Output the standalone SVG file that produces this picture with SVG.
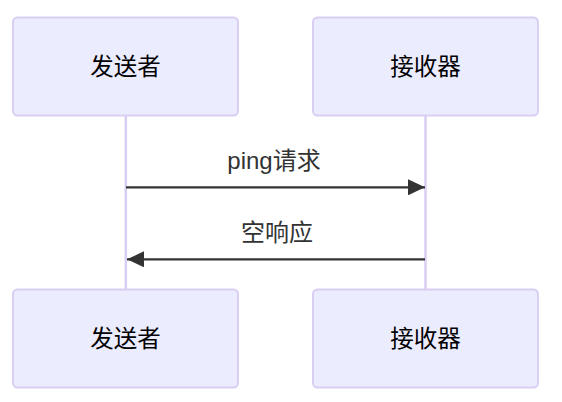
<svg xmlns="http://www.w3.org/2000/svg" width="562" height="402" viewBox="0 0 562 402">
<style>
.actor{fill:#ECECFF;stroke:#dacef3;stroke-width:2}
.atext{font-family:"Liberation Sans","Noto Sans CJK SC",sans-serif;font-size:23.5px;fill:#000;text-anchor:middle;dominant-baseline:central}
.life{stroke:#d8cdf3;stroke-width:2.5}
.msg{stroke:#333;stroke-width:2.2;fill:none}
.mtext{font-family:"Liberation Sans","Noto Sans CJK SC",sans-serif;font-size:24px;fill:#333;text-anchor:middle}
</style>
<defs>
<marker id="ah" markerUnits="userSpaceOnUse" markerWidth="18" markerHeight="16" refX="17" refY="8" orient="auto">
<path d="M0,0 L17,8 L0,16 Z" fill="#333"/>
</marker>
</defs>
<g id="lifelines">
<line class="life" x1="125.8" y1="115.5" x2="125.8" y2="289.5"/>
<line class="life" x1="425.5" y1="115.5" x2="425.5" y2="289.5"/>
</g>
<g id="sender-top"><rect class="actor" x="13" y="17.5" width="225" height="98" rx="4.5"/><text class="atext" x="125.5" y="67">发送者</text></g>
<g id="receiver-top"><rect class="actor" x="313" y="17.5" width="225" height="98" rx="4.5"/><text class="atext" x="425.5" y="67">接收器</text></g>
<g id="sender-bottom"><rect class="actor" x="13" y="289.5" width="225" height="98" rx="4.5"/><text class="atext" x="125.5" y="339">发送者</text></g>
<g id="receiver-bottom"><rect class="actor" x="313" y="289.5" width="225" height="98" rx="4.5"/><text class="atext" x="425.5" y="339">接收器</text></g>
<g id="connectors">
<line class="msg" x1="126" y1="187.3" x2="425" y2="187.3" marker-end="url(#ah)"/>
<text class="mtext" x="274" y="168.5">ping请求</text>
<line class="msg" x1="425" y1="259.3" x2="127" y2="259.3" marker-end="url(#ah)"/>
<text class="mtext" x="277" y="241">空响应</text>
</g>
</svg>
